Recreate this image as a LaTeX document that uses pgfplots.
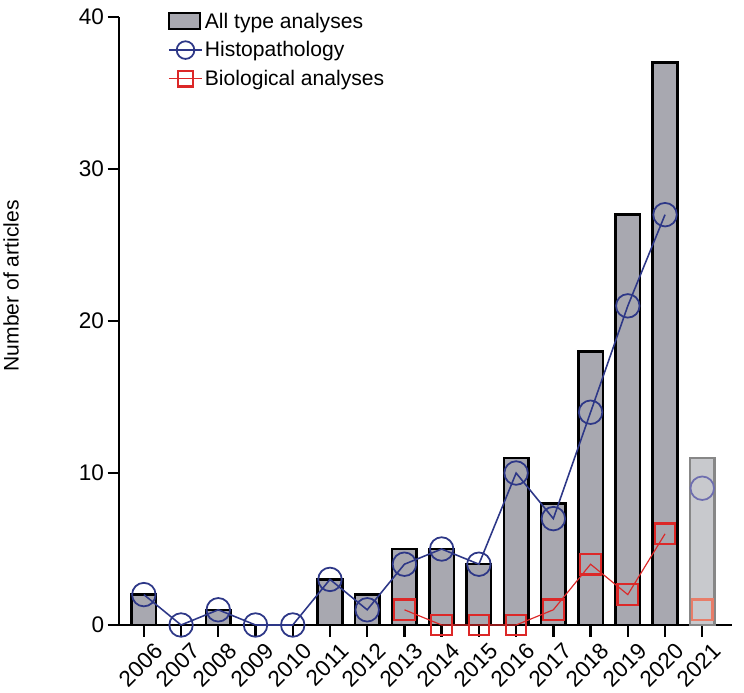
\documentclass[border={0pt 2pt 11pt 6pt}]{standalone}
\usepackage{pgfplots}
\pgfplotsset{compat=1.18}
\usepackage{fontspec}
\setmainfont{Liberation Sans}
\definecolor{barfill}{RGB}{168,168,176}
\definecolor{barfilllight}{RGB}{200,201,205}
\definecolor{barlinelight}{RGB}{135,135,135}
\definecolor{histo}{RGB}{45,55,135}
\definecolor{histolight}{RGB}{110,110,175}
\definecolor{bio}{RGB}{220,40,40}
\definecolor{biolight}{RGB}{232,125,105}
\pgfplotsset{
  barleg/.style={legend image code/.code={\draw[##1, line width=2pt] (0pt,-8pt) rectangle (32pt,9pt);}},
  circleg/.style={legend image code/.code={\draw[mark repeat=2,mark phase=2,##1,mark size=9pt] plot coordinates {(0pt,0pt)(17pt,0pt)(34pt,0pt)};}},
  squareleg/.style={legend image code/.code={\draw[mark repeat=2,mark phase=2,##1,mark size=8pt] plot coordinates {(0pt,0pt)(17pt,0pt)(34pt,0pt)};}},
}
\begin{document}
\begin{tikzpicture}
\begin{axis}[
  scale only axis,
  width=625pt, height=620pt,
  xmin=-0.66, xmax=15.8,
  ymin=0, ymax=40,
  axis x line*=bottom, axis y line*=left,
  axis line style={line width=2.4pt},
  xtick={0,...,15},
  xticklabels={2006,2007,2008,2009,2010,2011,2012,2013,2014,2015,2016,2017,2018,2019,2020,2021},
  ytick={0,10,20,30,40},
  tick align=outside,
  major tick length=12pt,
  tick style={line width=2.4pt, black},
  /pgf/number format/assume math mode=true,
  tick label style={font=\fontsize{23}{27}\selectfont},
  x tick label style={rotate=45, anchor=north east, inner sep=1pt, xshift=4pt, yshift=-9pt},
  ylabel={Number of articles},
  ylabel style={font=\fontsize{21.5}{25}\selectfont, at={([xshift=-99pt]axis description cs:0,0.558)}, anchor=south},
  legend style={at={(axis description cs:0.079,1.01)}, anchor=north west, draw=none, fill=none,
    font=\fontsize{21.5}{25}\selectfont, row sep=8pt, inner sep=0pt},
  legend cell align=left,
  clip=false,
]
\addplot[ybar, bar width=0.66, bar shift=0pt, fill=barfill, draw=black, line width=2.6pt, barleg]
  coordinates {(0,2)(1,0)(2,1)(3,0)(4,0)(5,3)(6,2)(7,5)(8,5)(9,4)(10,11)(11,8)(12,18)(13,27)(14,37)};
\addlegendentry{All type analyses}
\addplot[histo, line width=1.6pt, mark=o, mark size=12pt, mark options={line width=1.8pt}, circleg]
  coordinates {(0,2)(1,0)(2,1)(3,0)(4,0)(5,3)(6,1)(7,4)(8,5)(9,4)(10,10)(11,7)(12,14)(13,21)(14,27)};
\addlegendentry{Histopathology}
\addplot[bio, line width=1.2pt, mark=square, mark size=10.5pt, mark options={line width=2.2pt}, squareleg]
  coordinates {(7,1)(8,0)(9,0)(10,0)(11,1)(12,4)(13,2)(14,6)};
\addlegendentry{Biological analyses}
\addplot[ybar, bar width=0.66, bar shift=0pt, fill=barfilllight, draw=barlinelight, line width=2.2pt, forget plot]
  coordinates {(15,11)};
\addplot[only marks, mark=o, mark size=12pt, histolight, mark options={line width=1.8pt}, forget plot]
  coordinates {(15,9)};
\addplot[only marks, mark=square, mark size=10.5pt, biolight, mark options={line width=2.2pt}, forget plot]
  coordinates {(15,1)};
\end{axis}
\end{tikzpicture}
\end{document}
